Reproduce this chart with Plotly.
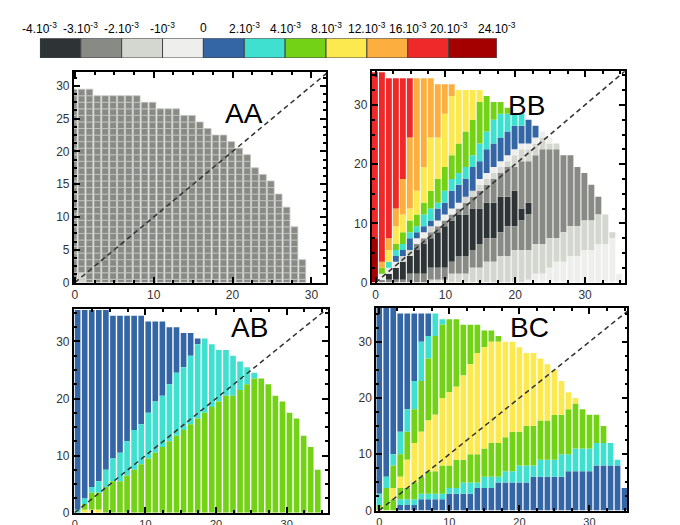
import plotly.graph_objects as go

# ---------------- data ----------------
LEVEL_TICKS = ["-4.10<sup>-3</sup>", "-3.10<sup>-3</sup>", "-2.10<sup>-3</sup>", "-10<sup>-3</sup>", "0",
               "2.10<sup>-3</sup>", "4.10<sup>-3</sup>", "8.10<sup>-3</sup>", "12.10<sup>-3</sup>",
               "16.10<sup>-3</sup>", "20.10<sup>-3</sup>", "24.10<sup>-3</sup>"]
LEVEL_COLORS = ["#2e3436", "#888a85", "#d3d7cf", "#eeeeec", "#3465a4", "#40e0d0",
                "#73d216", "#fce94f", "#fcaf3e", "#ef2929", "#a40000"]
CB_WIDTHS = [1, 1, 1, 1, 1, 1, 1, 1, 1, 1, 1.18]

# each column: list of [level index, top of segment] from bottom to top
AA_COLS = [[[1, 29.5]], [[2, 1.5], [1, 29.5]], [[1, 29.5]]] + [[[1, 28.5]]] * 6 + [[[1, 27.5]]] * 2 + \
          [[[1, 26.5]]] * 3 + [[[1, 25.5]]] * 2 + [[[1, 24.5]], [[1, 23.5]], [[1, 22.5]], [[1, 22.5]],
          [[1, 21.5]], [[1, 20.5]], [[1, 19.5]], [[1, 17.5]], [[1, 16.5]], [[1, 15.5]], [[1, 13.5]],
          [[1, 11.5]], [[1, 8.5]], [[1, 3.5]]]

BB_COLS = [
    [[10, 7.5], [9, 35.5]],
    [[1, 0.5], [3, 1.5], [6, 2.5], [8, 3.5], [9, 35.5]],
    [[1, 0.5], [0, 1.5], [3, 2.5], [5, 3.5], [7, 5.5], [8, 7.5], [9, 34.5]],
    [[1, 0.5], [0, 2.5], [3, 3.5], [4, 4.5], [5, 5.5], [6, 6.5], [7, 9.5], [8, 12.5], [9, 34.5]],
    [[1, 0.5], [0, 3.5], [2, 4.5], [4, 5.5], [5, 6.5], [6, 8.5], [7, 11.5], [8, 17.5], [9, 34.5]],
    [[1, 1.5], [0, 4.5], [2, 5.5], [4, 7.5], [5, 8.5], [6, 10.5], [7, 12.5], [8, 24.5], [9, 34.5]],
    [[1, 1.5], [0, 5.5], [1, 6.5], [3, 7.5], [4, 8.5], [5, 9.5], [6, 11.5], [7, 15.5], [8, 34.5]],
    [[1, 1.5], [0, 6.5], [1, 7.5], [3, 8.5], [4, 9.5], [5, 11.5], [6, 13.5], [7, 19.5], [8, 34.5]],
    [[2, 0.5], [1, 2.5], [0, 7.5], [1, 8.5], [2, 9.5], [4, 10.5], [5, 12.5], [6, 15.5], [7, 24.5], [8, 34.5]],
    [[2, 0.5], [1, 2.5], [0, 8.5], [1, 9.5], [3, 10.5], [4, 12.5], [5, 13.5], [6, 17.5], [7, 24.5], [8, 33.5]],
    [[2, 0.5], [1, 2.5], [0, 9.5], [1, 10.5], [3, 11.5], [4, 13.5], [5, 15.5], [6, 19.5], [7, 28.5], [8, 33.5]],
    [[2, 1.5], [1, 3.5], [0, 10.5], [1, 11.5], [3, 12.5], [4, 15.5], [5, 17.5], [6, 21.5], [7, 31.5], [8, 33.5]],
    [[2, 1.5], [1, 4.5], [0, 11.5], [1, 12.5], [3, 13.5], [4, 16.5], [5, 18.5], [6, 23.5], [7, 32.5]],
    [[2, 1.5], [1, 4.5], [0, 11.5], [1, 13.5], [2, 14.5], [4, 17.5], [5, 19.5], [6, 25.5], [7, 32.5]],
    [[2, 2.5], [1, 5.5], [0, 12.5], [1, 14.5], [2, 15.5], [4, 19.5], [5, 21.5], [6, 27.5], [7, 32.5]],
    [[2, 2.5], [1, 6.5], [0, 12.5], [1, 15.5], [2, 16.5], [3, 17.5], [4, 20.5], [5, 23.5], [6, 30.5], [7, 32.5]],
    [[2, 3.5], [1, 7.5], [0, 13.5], [1, 16.5], [2, 17.5], [3, 18.5], [4, 22.5], [5, 25.5], [6, 31.5]],
    [[2, 3.5], [1, 7.5], [0, 13.5], [1, 17.5], [2, 18.5], [3, 19.5], [4, 23.5], [5, 27.5], [6, 30.5]],
    [[2, 4.5], [1, 8.5], [0, 14.5], [1, 18.5], [2, 19.5], [3, 20.5], [4, 24.5], [5, 28.5], [6, 30.5]],
    [[2, 4.5], [1, 9.5], [0, 14.5], [1, 19.5], [2, 20.5], [3, 21.5], [4, 25.5], [5, 28.5], [6, 29.5]],
    [[2, 5.5], [1, 9.5], [0, 15.5], [1, 19.5], [2, 21.5], [3, 22.5], [4, 26.5], [5, 28.5]],
    [[2, 5.5], [1, 10.5], [0, 12.5], [1, 20.5], [2, 22.5], [3, 23.5], [4, 26.5], [5, 28.5]],
    [[3, 0.5], [2, 5.5], [1, 11.5], [0, 13.5], [1, 20.5], [2, 22.5], [3, 23.5], [4, 27.5]],
    [[3, 1.5], [2, 6.5], [1, 21.5], [2, 23.5], [3, 24.5], [4, 26.5]],
    [[3, 1.5], [2, 6.5], [1, 22.5], [2, 24.5], [3, 25.5]],
    [[3, 2.5], [2, 7.5], [1, 22.5], [2, 23.5], [3, 24.5]],
    [[3, 3.5], [2, 7.5], [1, 22.5], [2, 23.5]],
    [[3, 3.5], [2, 8.5], [1, 21.5]],
    [[3, 4.5], [2, 9.5], [1, 21.5]],
    [[3, 4.5], [2, 9.5], [1, 19.5]],
    [[3, 5.5], [2, 10.5], [1, 18.5]],
    [[3, 5.5], [2, 10.5], [1, 16.5]],
    [[3, 6.5], [2, 11.5], [1, 14.5]],
    [[3, 6.5], [2, 11.5]],
    [[3, 7.5], [2, 8.5]],
    [[3, 1.5]],
]

AB_COLS = [
    [[5, 0.5], [4, 35.5]],
    [[7, 0.5], [6, 1.5], [5, 2.5], [4, 35.5]],
    [[7, 0.5], [6, 3.5], [5, 4.5], [4, 35.5]],
    [[7, 0.5], [6, 3.5], [5, 5.5], [4, 35.5]],
    [[6, 4.5], [5, 7.5], [4, 35.5]],
    [[6, 5.5], [5, 9.5], [4, 34.5]],
    [[6, 5.5], [5, 10.5], [4, 34.5]],
    [[6, 6.5], [5, 12.5], [4, 34.5]],
    [[6, 7.5], [5, 14.5], [4, 34.5]],
    [[6, 8.5], [5, 15.5], [4, 34.5]],
    [[6, 9.5], [5, 17.5], [4, 33.5]],
    [[6, 10.5], [5, 19.5], [4, 33.5]],
    [[6, 11.5], [5, 20.5], [4, 33.5]],
    [[6, 12.5], [5, 22.5], [4, 32.5]],
    [[6, 13.5], [5, 24.5], [4, 32.5]],
    [[6, 14.5], [5, 25.5], [4, 31.5]],
    [[6, 15.5], [5, 27.5], [4, 31.5]],
    [[6, 16.5], [5, 29.5], [4, 30.5]],
    [[6, 17.5], [5, 30.5]],
    [[6, 18.5], [5, 29.5]],
    [[6, 19.5], [5, 28.5]],
    [[6, 20.5], [5, 28.5]],
    [[6, 20.5], [5, 27.5]],
    [[6, 21.5], [5, 26.5]],
    [[6, 22.5], [5, 25.5]],
    [[6, 23.5], [5, 24.5]],
    [[6, 23.5]], [[6, 22.5]], [[6, 20.5]], [[6, 19.5]], [[6, 17.5]],
    [[6, 16.5]], [[6, 13.5]], [[6, 11.5]], [[6, 7.5]],
]

BC_COLS = [
    [[6, 1], [5, 3], [4, 36]],
    [[6, 4], [5, 6], [4, 36]],
    [[6, 2], [7, 4], [6, 8], [5, 10], [4, 36]],
    [[4, 1], [5, 2], [6, 4], [7, 6], [6, 10], [5, 14], [4, 35]],
    [[4, 1], [5, 2], [6, 4], [7, 9], [6, 14], [5, 18], [4, 35]],
    [[4, 1], [5, 2], [6, 5], [7, 12], [6, 18], [5, 23], [4, 35]],
    [[4, 2], [5, 3], [6, 6], [7, 14], [6, 23], [5, 30], [4, 35]],
    [[4, 2], [5, 3], [6, 7], [7, 16], [6, 27], [5, 31], [4, 35]],
    [[4, 2], [5, 3], [6, 7], [7, 17], [6, 31], [5, 35]],
    [[4, 2], [5, 3], [6, 8], [7, 20], [6, 33], [5, 34]],
    [[4, 3], [5, 4], [6, 8], [7, 21], [6, 34]],
    [[4, 3], [5, 4], [6, 9], [7, 22], [6, 34]],
    [[4, 3], [5, 5], [6, 9], [7, 24], [6, 33]],
    [[4, 3], [5, 5], [6, 10], [7, 26], [6, 33]],
    [[4, 4], [5, 5], [6, 10], [7, 28], [6, 33]],
    [[4, 4], [5, 6], [6, 11], [7, 29], [6, 32]],
    [[4, 4], [5, 6], [6, 12], [7, 30], [6, 32]],
    [[4, 5], [5, 6], [6, 12], [7, 30], [6, 31]],
    [[4, 5], [5, 7], [6, 13], [7, 30]],
    [[4, 5], [5, 7], [6, 14], [7, 30]],
    [[4, 5], [5, 8], [6, 14], [7, 29]],
    [[4, 5], [5, 8], [6, 15], [7, 28]],
    [[4, 6], [5, 8], [6, 15], [7, 28]],
    [[4, 6], [5, 9], [6, 16], [7, 27]],
    [[4, 6], [5, 9], [6, 16], [7, 26]],
    [[4, 6], [5, 9], [6, 17], [7, 25]],
    [[4, 6], [5, 10], [6, 17], [7, 23]],
    [[4, 7], [5, 10], [6, 18], [7, 21]],
    [[4, 7], [5, 11], [6, 19], [7, 20]],
    [[4, 7], [5, 11], [6, 18]],
    [[4, 7], [5, 11], [6, 17]],
    [[4, 8], [5, 12], [6, 17]],
    [[4, 8], [5, 12], [6, 15]],
    [[4, 8], [5, 12]],
    [[4, 8], [5, 9]],
    [[4, 4]],
]

# ---------------- layout / style ----------------
W, H = 680, 525
PANELS = [
    dict(name="AA", cols=AA_COLS, shift=-0.15, bw=0.85, xr=[-0.13, 31.86], yr=[0, 32.1], ydt=5, ymin=1.25,
         px=[64, 317], py=[65, 278.3], lab=(234.5, 89.5), cells=True, xfs=12),
    dict(name="BB", cols=BB_COLS, shift=-0.1, bw=0.85, xr=[-0.57, 35.7], yr=[0, 35.7], ydt=10, ymin=2.5,
         px=[362.7, 616.7], py=[64, 278.3], lab=(539, 81), cells=False, xfs=12),
    dict(name="AB", cols=AB_COLS, shift=0.4, bw=0.8, xr=[-0.14, 35.86], yr=[0, 35.7], ydt=10, ymin=2.5,
         px=[64, 319], py=[305, 511.5], lab=(240.5, 324), cells=False, xfs=11),
    dict(name="BC", cols=BC_COLS, shift=0.0, bw=0.81, xr=[-0.43, 35.42], yr=[0, 36.0], ydt=10, ymin=2.5,
         px=[367.3, 619.3], py=[304, 509.3], lab=(542.5, 324), cells=False, xfs=11),
]

fig = go.Figure()
layout = dict(width=W, height=H, margin=dict(l=0, r=0, t=0, b=0), paper_bgcolor="white",
              plot_bgcolor="white", barmode="overlay", showlegend=False, annotations=[])

FONT = "Liberation Sans, Arial, sans-serif"

for k, p in enumerate(PANELS, start=1):
    xa, ya = f"x{k}", f"y{k}"
    segs = {lv: ([], [], []) for lv in range(len(LEVEL_COLORS))}
    for i, col in enumerate(p["cols"]):
        bottom = 0.0
        for lv, top in col:
            if p["cells"]:
                edges = sorted(set([bottom, top] + [j + 0.5 for j in range(0, 40) if bottom < j + 0.5 < top]))
            else:
                edges = [bottom, top]
            for a, b in zip(edges[:-1], edges[1:]):
                segs[lv][0].append(i + p["shift"])
                segs[lv][1].append(b - a)
                segs[lv][2].append(a)
            bottom = top
    for lv, (xs, hs, bs) in segs.items():
        if not xs:
            continue
        fig.add_trace(go.Bar(
            x=xs, y=hs, base=bs, width=p["bw"], xaxis=xa, yaxis=ya,
            marker=dict(color=LEVEL_COLORS[lv],
                        line=dict(color="#c4c6c1" if p["cells"] else LEVEL_COLORS[lv],
                                  width=0.8 if p["cells"] else 0)),
            hoverinfo="skip"))
    fig.add_trace(go.Scatter(x=[0, 60], y=[0, 60], mode="lines", xaxis=xa, yaxis=ya,
                             line=dict(color="#333333", width=1.5, dash="5px,3.5px"), hoverinfo="skip"))
    axcommon = dict(showline=True, linecolor="black", linewidth=1.8, mirror="ticks", ticks="inside",
                    ticklen=6, tickwidth=1.5, tickcolor="black", showgrid=False, zeroline=False)
    layout[f"xaxis{k}"] = dict(domain=[p["px"][0] / W, p["px"][1] / W], range=p["xr"], anchor=ya,
                               tick0=0, dtick=10,
                               tickfont=dict(family=FONT, size=p["xfs"], color="#333333"),
                               minor=dict(ticks="inside", ticklen=3, dtick=2.5, tickcolor="black"),
                               **axcommon)
    layout[f"yaxis{k}"] = dict(domain=[1 - p["py"][1] / H, 1 - p["py"][0] / H], range=p["yr"], anchor=xa,
                               tick0=0, dtick=p["ydt"],
                               tickfont=dict(family=FONT, size=12, color="#333333"),
                               minor=dict(ticks="inside", ticklen=3, dtick=p["ymin"], tickcolor="black"),
                               **axcommon)
    layout["annotations"].append(dict(text=p["name"], x=p["lab"][0] / W, y=1 - p["lab"][1] / H,
                                      xref="paper", yref="paper", showarrow=False,
                                      font=dict(family=FONT, size=28, color="black")))

# colour scale bar
edges = [0]
for w in CB_WIDTHS:
    edges.append(edges[-1] + w)
centers = [(a + b) / 2 for a, b in zip(edges[:-1], edges[1:])]
fig.add_trace(go.Bar(x=centers, y=[1] * len(CB_WIDTHS), width=CB_WIDTHS, xaxis="x5", yaxis="y5",
                     marker=dict(color=LEVEL_COLORS, line=dict(color="#444444", width=1)), hoverinfo="skip"))
layout["xaxis5"] = dict(domain=[30 / W, 488.3 / W], range=[0, edges[-1]], anchor="y5",
                        visible=False)
layout["yaxis5"] = dict(domain=[1 - 50.7 / H, 1 - 30.7 / H], range=[0, 1], anchor="x5", visible=False)
for e, t in zip(edges, LEVEL_TICKS):
    layout["annotations"].append(dict(text=t, x=e, y=1 - 20 / H, xref="x5", yref="paper",
                                      showarrow=False, xanchor="center", yanchor="middle",
                                      font=dict(family=FONT, size=12, color="black")))

fig.update_layout(**layout)
fig.write_html("out.html")
